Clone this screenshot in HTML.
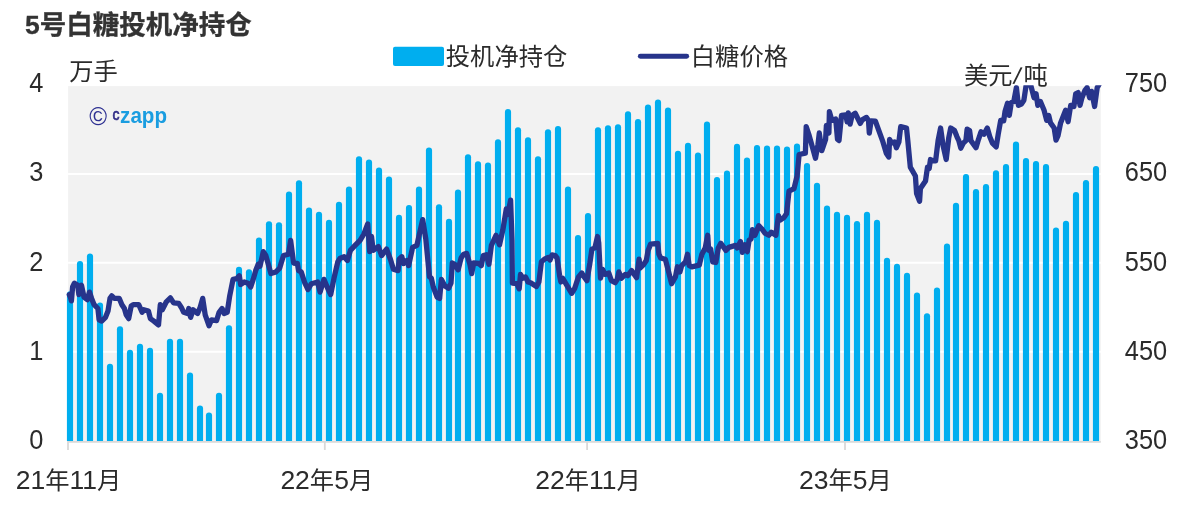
<!DOCTYPE html>
<html lang="zh-CN"><head><meta charset="utf-8"><title>5号白糖投机净持仓</title>
<style>
html,body{margin:0;padding:0;background:#fff;}
body{width:1188px;height:516px;overflow:hidden;}
svg{display:block;}
text{font-family:"Liberation Sans","Noto Sans CJK SC",sans-serif;}
.ax{font-size:24.3px;}
</style></head><body>
<svg width="1188" height="516" viewBox="0 0 1188 516" fill="#2b2b2b">
<defs><clipPath id="lc"><rect x="66" y="85.2" width="1035.9" height="357"/></clipPath><clipPath id="pc"><rect x="66" y="86.1" width="1034.8" height="354.9"/></clipPath></defs>
<rect x="0" y="0" width="1188" height="516" fill="#fff"/>
<rect x="68.1" y="86.1" width="1032.7" height="354.9" fill="#f2f2f2"/>
<line x1="68.1" x2="1100.8" y1="174.00" y2="174.00" stroke="#fff" stroke-width="2"/>
<line x1="68.1" x2="1100.8" y1="262.80" y2="262.80" stroke="#fff" stroke-width="2"/>
<line x1="68.1" x2="1100.8" y1="351.75" y2="351.75" stroke="#fff" stroke-width="2"/>
<g clip-path="url(#pc)" fill="#00aeef">
<rect x="66.92" y="291.2" width="6.16" height="159.8" rx="3.08" ry="3.08"/><rect x="76.92" y="261.0" width="6.16" height="190.0" rx="3.08" ry="3.08"/><rect x="86.92" y="253.4" width="6.16" height="197.6" rx="3.08" ry="3.08"/><rect x="96.92" y="302.6" width="6.16" height="148.4" rx="3.08" ry="3.08"/><rect x="106.92" y="363.7" width="6.16" height="87.3" rx="3.08" ry="3.08"/><rect x="116.92" y="326.2" width="6.16" height="124.8" rx="3.08" ry="3.08"/>
<rect x="126.92" y="349.8" width="6.16" height="101.2" rx="3.08" ry="3.08"/><rect x="136.92" y="343.7" width="6.16" height="107.3" rx="3.08" ry="3.08"/><rect x="146.92" y="347.8" width="6.16" height="103.2" rx="3.08" ry="3.08"/><rect x="156.92" y="392.7" width="6.16" height="58.3" rx="3.08" ry="3.08"/><rect x="166.92" y="338.7" width="6.16" height="112.3" rx="3.08" ry="3.08"/><rect x="176.92" y="338.7" width="6.16" height="112.3" rx="3.08" ry="3.08"/>
<rect x="186.92" y="372.5" width="6.16" height="78.5" rx="3.08" ry="3.08"/><rect x="196.92" y="405.6" width="6.16" height="45.4" rx="3.08" ry="3.08"/><rect x="205.92" y="412.4" width="6.16" height="38.6" rx="3.08" ry="3.08"/><rect x="215.92" y="392.7" width="6.16" height="58.3" rx="3.08" ry="3.08"/><rect x="225.92" y="325.2" width="6.16" height="125.8" rx="3.08" ry="3.08"/><rect x="235.92" y="266.8" width="6.16" height="184.2" rx="3.08" ry="3.08"/>
<rect x="245.92" y="269.2" width="6.16" height="181.8" rx="3.08" ry="3.08"/><rect x="255.92" y="237.5" width="6.16" height="213.5" rx="3.08" ry="3.08"/><rect x="265.92" y="221.2" width="6.16" height="229.8" rx="3.08" ry="3.08"/><rect x="275.92" y="222.2" width="6.16" height="228.8" rx="3.08" ry="3.08"/><rect x="285.92" y="191.6" width="6.16" height="259.4" rx="3.08" ry="3.08"/><rect x="295.92" y="180.2" width="6.16" height="270.8" rx="3.08" ry="3.08"/>
<rect x="305.92" y="207.5" width="6.16" height="243.5" rx="3.08" ry="3.08"/><rect x="315.92" y="211.7" width="6.16" height="239.3" rx="3.08" ry="3.08"/><rect x="325.92" y="219.8" width="6.16" height="231.2" rx="3.08" ry="3.08"/><rect x="335.92" y="201.7" width="6.16" height="249.3" rx="3.08" ry="3.08"/><rect x="345.92" y="186.5" width="6.16" height="264.5" rx="3.08" ry="3.08"/><rect x="355.92" y="156.2" width="6.16" height="294.8" rx="3.08" ry="3.08"/>
<rect x="365.92" y="159.5" width="6.16" height="291.5" rx="3.08" ry="3.08"/><rect x="375.92" y="167.6" width="6.16" height="283.4" rx="3.08" ry="3.08"/><rect x="385.92" y="176.4" width="6.16" height="274.6" rx="3.08" ry="3.08"/><rect x="395.92" y="214.8" width="6.16" height="236.2" rx="3.08" ry="3.08"/><rect x="405.92" y="205.0" width="6.16" height="246.0" rx="3.08" ry="3.08"/><rect x="415.92" y="186.5" width="6.16" height="264.5" rx="3.08" ry="3.08"/>
<rect x="425.92" y="147.4" width="6.16" height="303.6" rx="3.08" ry="3.08"/><rect x="435.92" y="204.2" width="6.16" height="246.8" rx="3.08" ry="3.08"/><rect x="445.92" y="218.8" width="6.16" height="232.2" rx="3.08" ry="3.08"/><rect x="454.92" y="189.6" width="6.16" height="261.4" rx="3.08" ry="3.08"/><rect x="464.92" y="154.2" width="6.16" height="296.8" rx="3.08" ry="3.08"/><rect x="474.92" y="161.3" width="6.16" height="289.7" rx="3.08" ry="3.08"/>
<rect x="484.92" y="162.5" width="6.16" height="288.5" rx="3.08" ry="3.08"/><rect x="494.92" y="139.3" width="6.16" height="311.7" rx="3.08" ry="3.08"/><rect x="504.92" y="109.0" width="6.16" height="342.0" rx="3.08" ry="3.08"/><rect x="514.92" y="127.2" width="6.16" height="323.8" rx="3.08" ry="3.08"/><rect x="524.92" y="137.3" width="6.16" height="313.7" rx="3.08" ry="3.08"/><rect x="534.92" y="156.2" width="6.16" height="294.8" rx="3.08" ry="3.08"/>
<rect x="544.92" y="129.2" width="6.16" height="321.8" rx="3.08" ry="3.08"/><rect x="554.92" y="125.9" width="6.16" height="325.1" rx="3.08" ry="3.08"/><rect x="564.92" y="186.5" width="6.16" height="264.5" rx="3.08" ry="3.08"/><rect x="574.92" y="235.0" width="6.16" height="216.0" rx="3.08" ry="3.08"/><rect x="584.92" y="213.0" width="6.16" height="238.0" rx="3.08" ry="3.08"/><rect x="594.92" y="127.2" width="6.16" height="323.8" rx="3.08" ry="3.08"/>
<rect x="604.92" y="125.2" width="6.16" height="325.8" rx="3.08" ry="3.08"/><rect x="614.92" y="124.2" width="6.16" height="326.8" rx="3.08" ry="3.08"/><rect x="624.92" y="111.3" width="6.16" height="339.7" rx="3.08" ry="3.08"/><rect x="634.92" y="119.1" width="6.16" height="331.9" rx="3.08" ry="3.08"/><rect x="644.92" y="104.5" width="6.16" height="346.5" rx="3.08" ry="3.08"/><rect x="654.92" y="99.4" width="6.16" height="351.6" rx="3.08" ry="3.08"/>
<rect x="664.92" y="107.5" width="6.16" height="343.5" rx="3.08" ry="3.08"/><rect x="674.92" y="150.7" width="6.16" height="300.3" rx="3.08" ry="3.08"/><rect x="684.92" y="142.8" width="6.16" height="308.2" rx="3.08" ry="3.08"/><rect x="694.92" y="152.4" width="6.16" height="298.6" rx="3.08" ry="3.08"/><rect x="703.92" y="121.6" width="6.16" height="329.4" rx="3.08" ry="3.08"/><rect x="713.92" y="176.9" width="6.16" height="274.1" rx="3.08" ry="3.08"/>
<rect x="723.92" y="170.6" width="6.16" height="280.4" rx="3.08" ry="3.08"/><rect x="733.92" y="143.8" width="6.16" height="307.2" rx="3.08" ry="3.08"/><rect x="743.92" y="157.5" width="6.16" height="293.5" rx="3.08" ry="3.08"/><rect x="753.92" y="144.9" width="6.16" height="306.1" rx="3.08" ry="3.08"/><rect x="763.92" y="145.6" width="6.16" height="305.4" rx="3.08" ry="3.08"/><rect x="773.92" y="145.4" width="6.16" height="305.6" rx="3.08" ry="3.08"/>
<rect x="783.92" y="146.4" width="6.16" height="304.6" rx="3.08" ry="3.08"/><rect x="793.92" y="143.6" width="6.16" height="307.4" rx="3.08" ry="3.08"/><rect x="803.92" y="163.0" width="6.16" height="288.0" rx="3.08" ry="3.08"/><rect x="813.92" y="182.7" width="6.16" height="268.3" rx="3.08" ry="3.08"/><rect x="823.92" y="205.5" width="6.16" height="245.5" rx="3.08" ry="3.08"/><rect x="833.92" y="211.7" width="6.16" height="239.3" rx="3.08" ry="3.08"/>
<rect x="843.92" y="214.8" width="6.16" height="236.2" rx="3.08" ry="3.08"/><rect x="853.92" y="221.1" width="6.16" height="229.9" rx="3.08" ry="3.08"/><rect x="863.92" y="211.7" width="6.16" height="239.3" rx="3.08" ry="3.08"/><rect x="873.92" y="219.8" width="6.16" height="231.2" rx="3.08" ry="3.08"/><rect x="883.92" y="257.7" width="6.16" height="193.3" rx="3.08" ry="3.08"/><rect x="893.92" y="263.8" width="6.16" height="187.2" rx="3.08" ry="3.08"/>
<rect x="903.92" y="272.8" width="6.16" height="178.2" rx="3.08" ry="3.08"/><rect x="913.92" y="292.5" width="6.16" height="158.5" rx="3.08" ry="3.08"/><rect x="923.92" y="313.2" width="6.16" height="137.8" rx="3.08" ry="3.08"/><rect x="933.92" y="287.5" width="6.16" height="163.5" rx="3.08" ry="3.08"/><rect x="943.92" y="243.6" width="6.16" height="207.4" rx="3.08" ry="3.08"/><rect x="952.92" y="202.7" width="6.16" height="248.3" rx="3.08" ry="3.08"/>
<rect x="962.92" y="174.0" width="6.16" height="277.0" rx="3.08" ry="3.08"/><rect x="972.92" y="189.1" width="6.16" height="261.9" rx="3.08" ry="3.08"/><rect x="982.92" y="184.1" width="6.16" height="266.9" rx="3.08" ry="3.08"/><rect x="992.92" y="170.2" width="6.16" height="280.8" rx="3.08" ry="3.08"/><rect x="1002.92" y="164.0" width="6.16" height="287.0" rx="3.08" ry="3.08"/><rect x="1012.92" y="141.6" width="6.16" height="309.4" rx="3.08" ry="3.08"/>
<rect x="1022.92" y="158.0" width="6.16" height="293.0" rx="3.08" ry="3.08"/><rect x="1032.92" y="161.0" width="6.16" height="290.0" rx="3.08" ry="3.08"/><rect x="1042.92" y="164.0" width="6.16" height="287.0" rx="3.08" ry="3.08"/><rect x="1052.92" y="227.5" width="6.16" height="223.5" rx="3.08" ry="3.08"/><rect x="1062.92" y="220.7" width="6.16" height="230.3" rx="3.08" ry="3.08"/><rect x="1072.92" y="192.0" width="6.16" height="259.0" rx="3.08" ry="3.08"/>
<rect x="1082.92" y="180.1" width="6.16" height="270.9" rx="3.08" ry="3.08"/><rect x="1092.92" y="166.0" width="6.16" height="285.0" rx="3.08" ry="3.08"/></g>
<path d="M68 450V441.9H1100.8" fill="none" stroke="#d9d9d9" stroke-width="1.8"/>
<line x1="324.8" x2="324.8" y1="441.9" y2="450" stroke="#d9d9d9" stroke-width="1.8"/>
<line x1="587.1" x2="587.1" y1="441.9" y2="450" stroke="#d9d9d9" stroke-width="1.8"/>
<line x1="845.0" x2="845.0" y1="441.9" y2="450" stroke="#d9d9d9" stroke-width="1.8"/>
<g clip-path="url(#lc)"><path d="M69.3 294.6 L70.4 297.1 L71.4 300.9 L72.6 287.0 L74.4 283.2 L77.7 285.3 L78.9 294.6 L81.5 285.3 L84.0 297.1 L87.3 299.6 L89.5 292.1 L91.6 298.4 L94.1 304.7 L97.9 308.5 L99.1 319.8 L101.7 321.1 L105.5 317.3 L108.0 311.0 L110.0 298.4 L111.8 295.9 L114.3 298.4 L119.3 298.4 L121.9 304.7 L124.4 308.5 L126.2 314.8 L128.7 318.6 L131.2 306.0 L133.2 304.7 L138.8 304.7 L142.1 312.3 L143.8 309.7 L148.4 311.0 L150.4 318.6 L153.9 321.1 L158.5 324.9 L160.3 304.7 L162.3 309.7 L166.1 302.2 L170.4 297.9 L173.6 302.9 L178.7 303.4 L181.2 307.2 L183.7 312.3 L187.5 313.5 L188.8 308.5 L190.6 317.3 L193.1 309.7 L197.6 313.5 L200.2 307.2 L202.7 298.4 L205.2 314.8 L209.0 325.7 L211.5 319.8 L216.6 320.6 L219.1 312.3 L222.1 308.5 L224.1 313.5 L227.2 312.3 L229.7 295.9 L233.0 279.4 L236.8 278.7 L239.3 275.7 L240.6 284.5 L244.3 282.0 L248.1 283.2 L250.7 287.0 L253.2 279.4 L255.7 270.6 L258.2 264.3 L260.0 266.1 L263.3 251.7 L265.8 255.5 L268.3 264.3 L270.9 273.6 L275.9 271.9 L279.7 268.1 L283.5 255.5 L288.5 254.2 L290.6 240.3 L293.6 263.0 L297.4 263.5 L298.6 270.6 L301.2 271.9 L304.9 283.2 L308.0 289.5 L311.3 283.7 L317.6 282.0 L320.1 292.1 L323.9 279.4 L327.7 288.3 L330.7 294.6 L334.0 278.2 L337.8 261.8 L339.8 258.5 L344.1 256.7 L347.4 260.5 L350.4 250.4 L355.1 245.4 L360.1 240.3 L363.9 234.0 L367.7 223.9 L369.7 251.7 L371.5 236.5 L373.2 250.4 L376.5 247.9 L378.3 246.6 L381.6 255.5 L386.6 249.1 L390.4 259.2 L393.4 269.3 L398.0 270.6 L399.2 259.2 L401.8 256.7 L403.5 263.5 L406.8 260.5 L408.6 265.6 L410.6 256.7 L412.6 247.4 L416.9 245.4 L419.4 234.0 L422.7 219.6 L425.8 239.0 L429.5 276.9 L431.3 278.2 L433.3 287.0 L437.1 297.1 L439.6 298.4 L441.4 279.4 L444.7 285.8 L448.5 288.3 L451.0 283.2 L452.3 263.0 L454.8 264.3 L458.1 269.8 L461.1 258.0 L463.6 254.2 L466.7 253.4 L469.9 264.3 L471.7 273.6 L473.7 263.0 L478.8 263.5 L481.3 265.6 L483.3 255.5 L486.4 254.7 L488.9 264.3 L491.4 245.4 L496.0 235.3 L499.5 244.8 L502.8 230.2 L506.3 209.0 L507.8 214.5 L510.6 200.2 L512.0 240.1 L512.4 283.2 L516.7 283.7 L519.2 288.8 L520.5 274.4 L523.0 278.2 L525.5 276.9 L528.0 282.0 L530.6 282.7 L536.4 286.5 L538.9 282.0 L541.4 261.8 L544.4 259.2 L548.2 257.5 L550.0 260.0 L552.0 254.9 L555.1 255.5 L557.1 258.0 L559.6 275.7 L560.9 282.0 L562.6 278.2 L567.2 285.8 L571.7 293.3 L574.7 288.3 L578.5 276.9 L581.8 273.1 L583.6 276.2 L586.9 280.7 L589.9 263.0 L591.9 249.1 L594.9 247.9 L597.5 236.5 L598.7 242.8 L600.5 278.2 L602.5 269.3 L605.1 274.4 L608.8 273.1 L611.4 280.7 L615.2 282.7 L617.2 279.4 L618.9 271.9 L621.5 278.2 L625.3 274.4 L627.8 275.7 L631.6 270.6 L636.6 277.7 L639.1 259.2 L640.0 268.1 L643.8 264.3 L646.3 260.5 L648.1 250.4 L650.6 244.1 L657.7 243.3 L658.9 254.2 L660.7 258.0 L665.3 259.2 L668.3 270.6 L671.6 283.7 L675.4 276.9 L677.4 266.8 L679.9 271.9 L681.7 265.6 L685.5 261.8 L687.5 254.2 L689.2 265.6 L691.8 266.8 L699.3 265.1 L701.9 254.2 L705.2 247.9 L707.7 235.3 L708.7 250.4 L710.7 249.1 L712.7 261.8 L715.8 262.5 L718.3 247.9 L720.8 243.3 L725.9 250.4 L728.9 247.4 L735.5 245.4 L737.2 247.9 L740.5 241.6 L742.3 252.4 L744.8 244.8 L747.3 251.7 L749.1 240.3 L751.1 239.0 L752.4 229.7 L754.9 235.3 L758.7 225.7 L762.5 229.7 L765.0 233.2 L768.8 235.3 L771.3 232.2 L775.9 235.3 L778.4 215.6 L780.2 220.1 L783.9 217.6 L786.5 213.8 L789.0 191.1 L794.0 188.6 L797.1 176.0 L799.1 154.5 L805.4 153.2 L806.2 126.7 L809.2 135.6 L815.5 158.3 L818.0 144.4 L819.3 133.0 L821.8 150.7 L825.6 139.3 L826.4 125.5 L828.9 133.0 L829.4 111.6 L831.9 120.4 L835.7 119.1 L837.5 139.3 L839.0 140.6 L841.5 115.4 L845.8 114.8 L847.1 121.7 L848.3 112.8 L850.1 124.2 L852.1 115.4 L855.2 113.3 L860.2 123.4 L862.2 119.9 L866.5 117.4 L868.5 120.4 L869.3 133.0 L871.1 120.9 L875.4 121.2 L877.4 126.7 L882.5 140.6 L886.3 153.2 L888.8 157.0 L889.6 139.3 L891.4 143.1 L894.6 141.9 L896.4 147.7 L898.9 141.9 L900.7 126.7 L906.5 128.0 L907.8 140.6 L910.3 167.1 L915.4 176.0 L916.6 193.6 L919.6 201.2 L920.4 188.6 L925.5 181.0 L927.5 167.1 L929.2 168.4 L930.5 159.5 L933.0 160.8 L935.6 160.8 L938.1 140.6 L940.6 128.0 L943.1 145.7 L946.2 159.5 L948.7 138.1 L950.7 128.0 L954.5 130.5 L957.0 136.8 L958.8 140.6 L960.8 148.2 L963.3 143.1 L965.9 140.6 L967.1 129.2 L969.6 130.5 L970.9 140.6 L976.0 147.7 L978.5 139.3 L981.0 131.8 L984.0 134.3 L987.3 128.0 L989.8 136.8 L992.4 143.1 L996.2 146.9 L998.2 134.3 L1000.7 120.4 L1003.7 120.9 L1005.0 111.6 L1007.5 103.2 L1009.3 115.4 L1011.3 102.7 L1013.8 101.5 L1016.4 87.6 L1018.4 105.3 L1021.4 104.0 L1023.9 100.2 L1026.0 86.1 L1028.5 83.8 L1031.0 86.1 L1034.0 97.7 L1036.1 93.9 L1037.8 105.3 L1040.4 101.5 L1044.1 110.3 L1046.7 120.4 L1048.7 115.4 L1050.5 122.9 L1054.2 128.0 L1056.0 140.1 L1058.0 135.6 L1060.6 122.9 L1065.6 110.3 L1068.1 121.7 L1070.7 105.3 L1073.9 106.5 L1075.7 93.9 L1078.2 92.6 L1080.0 105.3 L1082.0 97.7 L1085.1 90.1 L1087.1 87.6 L1089.6 97.7 L1091.6 91.4 L1094.6 106.5 L1097.2 87.6 L1100.2 82.5 L1102.2 77.5" fill="none" stroke="#27348b" stroke-width="5.3" stroke-linejoin="round" stroke-linecap="round"/></g>
<text x="25" y="33.8" font-size="26.5" font-weight="bold" fill="#333" stroke="#333" stroke-width="0.3">5号白糖投机净持仓</text>
<rect x="393" y="46.8" width="51" height="19.1" rx="2" fill="#00aeef"/>
<text class="ax" x="445.8" y="65.1">投机净持仓</text>
<line x1="640.3" x2="686.7" y1="56.2" y2="56.2" stroke="#27348b" stroke-width="4.9" stroke-linecap="round"/>
<text class="ax" x="690.8" y="65">白糖价格</text>
<text font-size="24.3" x="69.2" y="80.3">万手</text>
<text class="ax" x="964 988.3 1012.6 1023.6" y="83.6" rotate="0 0 11 0">美元/吨</text>
<text font-size="27.3" transform="translate(43.4,92.1) scale(0.93,1)" text-anchor="end">4</text>
<text font-size="27.3" transform="translate(43.4,181.3) scale(0.93,1)" text-anchor="end">3</text>
<text font-size="27.3" transform="translate(43.4,270.7) scale(0.93,1)" text-anchor="end">2</text>
<text font-size="27.3" transform="translate(43.4,360.0) scale(0.93,1)" text-anchor="end">1</text>
<text font-size="27.3" transform="translate(43.4,449.2) scale(0.93,1)" text-anchor="end">0</text>
<text font-size="27.3" transform="translate(1124.8,92.1) scale(0.93,1)">750</text>
<text font-size="27.3" transform="translate(1124.8,181.3) scale(0.93,1)">650</text>
<text font-size="27.3" transform="translate(1124.8,270.7) scale(0.93,1)">550</text>
<text font-size="27.3" transform="translate(1124.8,360.0) scale(0.93,1)">450</text>
<text font-size="27.3" transform="translate(1124.8,449.2) scale(0.93,1)">350</text>
<text x="68.5" y="489" text-anchor="middle" aria-label="21年11月"><tspan font-size="26.5">21</tspan><tspan font-size="24.3">年</tspan><tspan font-size="26.5">11</tspan><tspan font-size="24.3">月</tspan></text>
<text x="326.8" y="489" text-anchor="middle" aria-label="22年5月"><tspan font-size="26.5">22</tspan><tspan font-size="24.3">年</tspan><tspan font-size="26.5">5</tspan><tspan font-size="24.3">月</tspan></text>
<text x="588.0" y="489" text-anchor="middle" aria-label="22年11月"><tspan font-size="26.5">22</tspan><tspan font-size="24.3">年</tspan><tspan font-size="26.5">11</tspan><tspan font-size="24.3">月</tspan></text>
<text x="845.5" y="489" text-anchor="middle" aria-label="23年5月"><tspan font-size="26.5">23</tspan><tspan font-size="24.3">年</tspan><tspan font-size="26.5">5</tspan><tspan font-size="24.3">月</tspan></text>
<text transform="translate(89.2,124.5) scale(1,1.09)" font-size="24.2" fill="#2e3192">©</text>
<text transform="translate(112.6,120.1) scale(0.8,1)" font-size="17.4" fill="#2e2a85" stroke="#2e2a85" stroke-width="0.7">c</text>
<text transform="translate(120.1,122.9) scale(1.005,1.045)" font-size="20.5" font-weight="bold" fill="#1a9de0">zapp</text>
</svg>
</body></html>
